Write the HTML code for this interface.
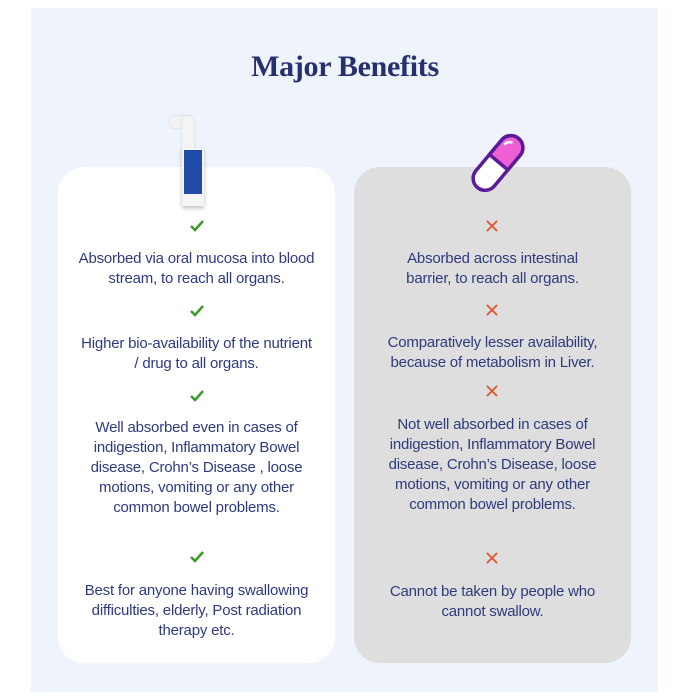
<!DOCTYPE html>
<html><head><style>
body{margin:0;width:690px;height:700px;background:#fff;position:relative;font-family:"Liberation Sans",sans-serif;overflow:hidden}
.panel{position:absolute;left:31px;top:8px;width:627px;height:684px;background:#eff3fc}
.card{position:absolute;top:167px;height:496px;width:277px;border-radius:26px}
.t{position:absolute;width:277px;text-align:center;font-size:15px;line-height:20px;color:#2f3a7c;letter-spacing:-0.2px}
.ck{position:absolute;width:16px;height:14px}
h1{position:absolute;top:50px;left:0;width:690px;margin:0;text-align:center;font-family:"Liberation Serif",serif;font-size:30px;font-weight:bold;color:#26306e;letter-spacing:-0.3px}
</style></head><body>
<div class="panel"></div>
<h1>Major Benefits</h1>
<div class="card" style="left:58px;background:#fff"></div>
<div class="card" style="left:354px;background:#dedede"></div>
<!-- spray -->
<div style="position:absolute;left:170px;top:116px;width:18px;height:12px;background:#f2f2f2;border-radius:4px;box-shadow:0 0 2px #ccc"></div>
<div style="position:absolute;left:182px;top:116px;width:12px;height:40px;background:#f4f4f4;border-radius:4px 4px 0 0;box-shadow:0 0 2px #ccc"></div>
<div style="position:absolute;left:182px;top:148px;width:22px;height:58px;background:#f5f5f5;box-shadow:0 2px 4px #bbb"></div>
<div style="position:absolute;left:184px;top:150px;width:18px;height:44px;background:#1f4aa8"></div>
<!-- pill -->
<svg style="position:absolute;left:462px;top:132px" width="72" height="62" viewBox="0 0 72 62">
<g transform="rotate(-50 36 31)">
<rect x="4" y="19" width="64" height="24" rx="12" fill="#fff" stroke="#5a1a9a" stroke-width="3.5"/>
<path d="M37 19 H56 A12 12 0 0 1 56 43 H37 Z" fill="#ee5fd4" stroke="#5a1a9a" stroke-width="3.5"/>
<path d="M54 24 q5 0 7 5" stroke="#fff" stroke-width="2.5" fill="none"/>
</g></svg>
<!-- checks -->
<svg class="ck" style="left:189px;top:219px"><path d="M2 7 L6 11 L14 2" stroke="#3a9a2a" stroke-width="2.5" fill="none"/></svg>
<svg class="ck" style="left:189px;top:304px"><path d="M2 7 L6 11 L14 2" stroke="#3a9a2a" stroke-width="2.5" fill="none"/></svg>
<svg class="ck" style="left:189px;top:389px"><path d="M2 7 L6 11 L14 2" stroke="#3a9a2a" stroke-width="2.5" fill="none"/></svg>
<svg class="ck" style="left:189px;top:550px"><path d="M2 7 L6 11 L14 2" stroke="#3a9a2a" stroke-width="2.5" fill="none"/></svg>
<svg class="ck" style="left:485px;top:219px"><path d="M2 2 L12 12 M12 2 L2 12" stroke="#d9552f" stroke-width="1.8"/></svg>
<svg class="ck" style="left:485px;top:303px"><path d="M2 2 L12 12 M12 2 L2 12" stroke="#d9552f" stroke-width="1.8"/></svg>
<svg class="ck" style="left:485px;top:384px"><path d="M2 2 L12 12 M12 2 L2 12" stroke="#d9552f" stroke-width="1.8"/></svg>
<svg class="ck" style="left:485px;top:551px"><path d="M2 2 L12 12 M12 2 L2 12" stroke="#d9552f" stroke-width="1.8"/></svg>
<!-- left texts -->
<div class="t" style="left:58px;top:249px">Absorbed via oral mucosa into blood<br>stream, to reach all organs.</div>
<div class="t" style="left:58px;top:334px">Higher bio-availability of the nutrient<br>/ drug to all organs.</div>
<div class="t" style="left:58px;top:418px">Well absorbed even in cases of<br>indigestion, Inflammatory Bowel<br>disease, Crohn’s Disease , loose<br>motions, vomiting or any other<br>common bowel problems.</div>
<div class="t" style="left:58px;top:581px">Best for anyone having swallowing<br>difficulties, elderly, Post radiation<br>therapy etc.</div>
<!-- right texts -->
<div class="t" style="left:354px;top:249px">Absorbed across intestinal<br>barrier, to reach all organs.</div>
<div class="t" style="left:354px;top:333px">Comparatively lesser availability,<br>because of metabolism in Liver.</div>
<div class="t" style="left:354px;top:415px">Not well absorbed in cases of<br>indigestion, Inflammatory Bowel<br>disease, Crohn’s Disease, loose<br>motions, vomiting or any other<br>common bowel problems.</div>
<div class="t" style="left:354px;top:582px">Cannot be taken by people who<br>cannot swallow.</div>
</body></html>
